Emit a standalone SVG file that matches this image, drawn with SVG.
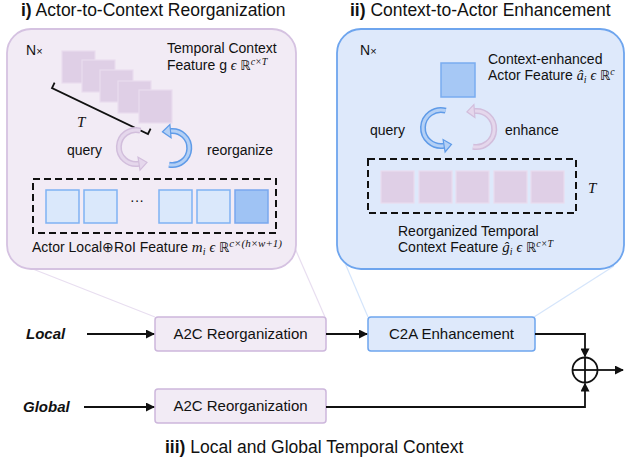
<svg xmlns="http://www.w3.org/2000/svg" width="626" height="463" viewBox="0 0 626 463">
  <style>
    .sans { font-family: "Liberation Sans", Arial, sans-serif; fill: #111; }
    .math { font-family: "Liberation Serif", "DejaVu Serif", serif; font-style: italic; fill: #111; }
    .dbl { font-family: "DejaVu Sans", "Noto Sans", sans-serif; font-style: normal; }
    .title { font-size: 17.5px; }
    .lbl { font-size: 14px; }
    .box-text { font-size: 15px; }
    .side { font-size: 15px; font-weight: bold; font-style: italic; }
    .ctx-sq { fill: #dfcfe6; stroke: #e9ddef; stroke-width: 1.2; }
    .act-sq { fill: #dae8fb; stroke: #7fb2f3; stroke-width: 1.5; }
    .act-sq-dark { fill: #9fc3f4; stroke: #79a8ee; stroke-width: 1.5; }
    .dash { fill: none; stroke: #111; stroke-width: 2; stroke-dasharray: 7 4; }
    .guide-p { stroke: #e8def0; stroke-width: 1.2; fill: none; }
    .guide-b { stroke: #d5e5fb; stroke-width: 1.2; fill: none; }
    .flow { fill: none; stroke: #111; stroke-width: 1.8; }
    .arc-b-out { fill: none; stroke: #5f9be8; stroke-width: 6; }
    .arc-b-in { fill: none; stroke: #b4d0f5; stroke-width: 3; }
    .arc-p-out { fill: none; stroke: #d2bedc; stroke-width: 6; }
    .arc-p-in { fill: none; stroke: #e5d7ec; stroke-width: 3; }
    .head-b { fill: #b4d0f5; stroke: #5f9be8; stroke-width: 1.2; }
    .head-p { fill: #e5d7ec; stroke: #d2bedc; stroke-width: 1.2; }
    .sup { font-size: 10px; }
  </style>
  <defs>
    <marker id="tri" viewBox="0 0 10 10" refX="9" refY="5" markerWidth="5" markerHeight="5" orient="auto">
      <path d="M0,0 L10,5 L0,10 z" fill="#111"/>
    </marker>
  </defs>

  <rect width="626" height="463" fill="#fff"/>

  <!-- zoom guide lines from panels down to the blocks -->
  <g id="guides">
    <line class="guide-p" x1="15" y1="262" x2="155" y2="317"/>
    <line class="guide-p" x1="294" y1="246" x2="325" y2="317"/>
    <line class="guide-b" x1="342" y1="256" x2="368" y2="317"/>
    <line class="guide-b" x1="614" y1="266" x2="534" y2="317"/>
  </g>

  <!-- panel i) -->
  <g id="panel-a2c">
    <text class="sans title" x="21" y="16"><tspan font-weight="bold">i)</tspan> Actor-to-Context Reorganization</text>
    <rect x="7" y="29" width="289" height="240" rx="24" fill="#f2ebf5" stroke="#d5c2e1" stroke-width="1.8"/>
    <text class="sans lbl" x="26" y="55">N<tspan font-size="11">×</tspan></text>
    <text class="sans lbl" x="167" y="53">Temporal Context</text>
    <text class="sans lbl" x="167" y="70">Feature g <tspan class="math" font-style="normal">ϵ</tspan> <tspan class="dbl" font-size="13">ℝ</tspan><tspan class="math sup" dy="-5">c×T</tspan></text>
    <g id="ctx-stack">
      <rect class="ctx-sq" x="62" y="51" width="33" height="32"/>
      <rect class="ctx-sq" x="82" y="60" width="33" height="32"/>
      <rect class="ctx-sq" x="100" y="70" width="33" height="32"/>
      <rect class="ctx-sq" x="118" y="81" width="33" height="32"/>
      <rect class="ctx-sq" x="139" y="90" width="33" height="33"/>
    </g>
    <path d="M54.6,82.6 L52,88 L148,134 L150.6,128.6" fill="none" stroke="#111" stroke-width="1.8"/>
    <text class="math" x="77" y="127" font-size="15">T</text>
    <!-- query / reorganize curved arrows -->
    <path class="arc-p-out" d="M140.4,130.6 A17,17 0 1 0 139,163.7"/>
    <path class="arc-p-in" d="M140.4,130.6 A17,17 0 1 0 139,163.7"/>
    <polygon class="head-p" points="147,162.3 140,170.2 138,157.2"/>
    <path class="arc-b-out" d="M169,164.7 A17,17 0 1 0 170.5,131.1"/>
    <path class="arc-b-in" d="M169,164.7 A17,17 0 1 0 170.5,131.1"/>
    <polygon class="head-b" points="162.5,131.8 169.9,124.5 171.1,137.7"/>
    <text class="sans lbl" x="67" y="155" font-size="14.5">query</text>
    <text class="sans lbl" x="207" y="155" font-size="14.5">reorganize</text>
    <rect class="dash" x="33" y="179" width="243" height="54"/>
    <rect class="act-sq" x="46" y="190" width="33" height="33"/>
    <rect class="act-sq" x="84" y="190" width="33" height="33"/>
    <text class="sans lbl" x="130" y="205">···</text>
    <rect class="act-sq" x="159" y="190" width="33" height="33"/>
    <rect class="act-sq" x="197" y="190" width="33" height="33"/>
    <rect class="act-sq-dark" x="235" y="190" width="33" height="33"/>
    <text class="sans lbl" x="32" y="252">Actor Local⊕RoI Feature <tspan class="math" font-size="15">m</tspan><tspan class="math sup" dy="3">i</tspan><tspan dy="-3"> </tspan><tspan class="math" font-style="normal">ϵ</tspan> <tspan class="dbl" font-size="13">ℝ</tspan><tspan class="math" font-size="11" dy="-5">c×(h×w+1)</tspan></text>
  </g>

  <!-- panel ii) -->
  <g id="panel-c2a">
    <text class="sans title" x="350" y="16"><tspan font-weight="bold">ii)</tspan> Context-to-Actor Enhancement</text>
    <rect x="337" y="29" width="287" height="240" rx="24" fill="#dee9fb" stroke="#6ea5ee" stroke-width="1.8"/>
    <text class="sans lbl" x="360" y="55">N<tspan font-size="11">×</tspan></text>
    <rect x="441" y="63" width="34" height="34" fill="#a6c8f5" stroke="#79acf0" stroke-width="1.5"/>
    <text class="sans lbl" x="488" y="64">Context-enhanced</text>
    <text class="sans lbl" x="488" y="80">Actor Feature <tspan class="math" font-style="normal">â</tspan><tspan class="math sup" dy="3">i</tspan><tspan dy="-3"> </tspan><tspan class="math" font-style="normal">ϵ</tspan> <tspan class="dbl" font-size="13">ℝ</tspan><tspan class="math sup" dy="-5">c</tspan></text>
    <!-- query / enhance curved arrows -->
    <path class="arc-b-out" d="M445.7,110.6 A18,18 0 1 0 444.1,145.7"/>
    <path class="arc-b-in" d="M445.7,110.6 A18,18 0 1 0 444.1,145.7"/>
    <polygon class="head-b" points="451.5,144.4 445.1,152 443.1,139.6"/>
    <path class="arc-p-out" d="M472.9,146.7 A18,18 0 1 0 474.4,111.1"/>
    <path class="arc-p-in" d="M472.9,146.7 A18,18 0 1 0 474.4,111.1"/>
    <polygon class="head-p" points="466.9,111.8 473.9,104.6 474.9,117.6"/>
    <text class="sans lbl" x="370" y="135" font-size="14.5">query</text>
    <text class="sans lbl" x="505" y="135" font-size="14.5">enhance</text>
    <rect class="dash" x="368" y="159" width="208" height="54"/>
    <rect class="ctx-sq" x="381" y="171" width="33" height="32"/>
    <rect class="ctx-sq" x="419" y="171" width="33" height="32"/>
    <rect class="ctx-sq" x="456" y="171" width="33" height="32"/>
    <rect class="ctx-sq" x="494" y="171" width="33" height="32"/>
    <rect class="ctx-sq" x="531" y="171" width="33" height="32"/>
    <text class="math" x="588" y="193" font-size="15">T</text>
    <text class="sans lbl" x="398" y="236">Reorganized Temporal</text>
    <text class="sans lbl" x="398" y="252">Context Feature <tspan class="math" font-size="15">ĝ</tspan><tspan class="math sup" dy="3">i</tspan><tspan dy="-3"> </tspan><tspan class="math" font-style="normal">ϵ</tspan> <tspan class="dbl" font-size="13">ℝ</tspan><tspan class="math sup" dy="-5">c×T</tspan></text>
  </g>

  <!-- iii) pipeline blocks -->
  <g id="local-label"><text class="sans side" x="26" y="339">Local</text></g>
  <g id="global-label"><text class="sans side" x="23" y="412">Global</text></g>
  <g id="a2c-local">
    <rect x="155" y="317" width="171" height="34" rx="3" fill="#f2ebf5" stroke="#cdb7dc" stroke-width="1.5"/>
    <text class="sans box-text" x="240.5" y="339" text-anchor="middle">A2C Reorganization</text>
  </g>
  <g id="a2c-global">
    <rect x="155" y="389" width="171" height="34" rx="3" fill="#f2ebf5" stroke="#cdb7dc" stroke-width="1.5"/>
    <text class="sans box-text" x="240.5" y="411" text-anchor="middle">A2C Reorganization</text>
  </g>
  <g id="c2a-local">
    <rect x="368" y="317" width="167" height="34" rx="3" fill="#dee9fb" stroke="#6ea5ee" stroke-width="1.5"/>
    <text class="sans box-text" x="451.5" y="339" text-anchor="middle">C2A Enhancement</text>
  </g>
  <g id="sum">
    <circle cx="585" cy="370" r="12.5" fill="#fff" stroke="#111" stroke-width="1.8"/>
    <line x1="572.5" y1="370" x2="597.5" y2="370" stroke="#111" stroke-width="1.8"/>
    <line x1="585" y1="357.5" x2="585" y2="382.5" stroke="#111" stroke-width="1.8"/>
  </g>

  <g id="connectors">
    <line class="flow" x1="87" y1="334" x2="154" y2="334" marker-end="url(#tri)"/>
    <line class="flow" x1="84" y1="407" x2="154" y2="407" marker-end="url(#tri)"/>
    <line class="flow" x1="326" y1="334" x2="367" y2="334" marker-end="url(#tri)"/>
    <polyline class="flow" points="535,334 585,334 585,356.5" marker-end="url(#tri)"/>
    <polyline class="flow" points="326,407 585,407 585,383.5" marker-end="url(#tri)"/>
    <line class="flow" x1="597.5" y1="370" x2="623" y2="370" marker-end="url(#tri)"/>
  </g>

  <text class="sans title" x="165" y="453"><tspan font-weight="bold">iii)</tspan> Local and Global Temporal Context</text>
</svg>
